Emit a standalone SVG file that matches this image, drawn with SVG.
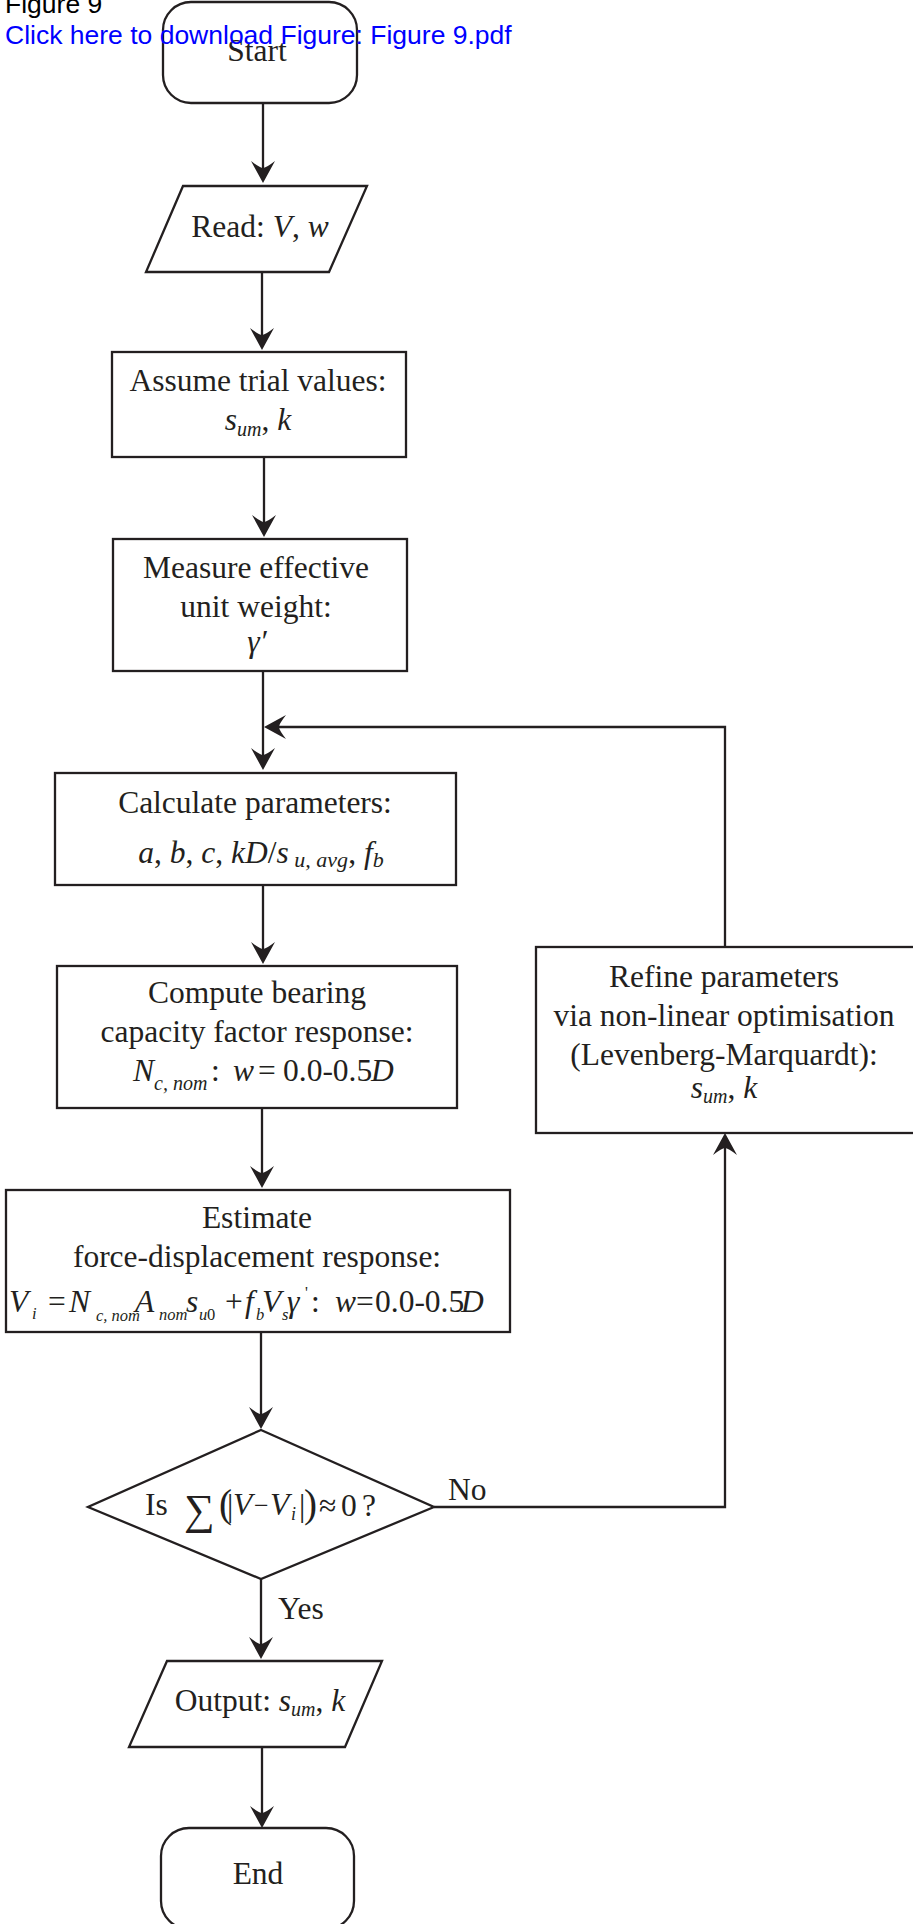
<svg xmlns="http://www.w3.org/2000/svg" width="913" height="1924" viewBox="0 0 913 1924">
<style>
.n{fill:#fff;stroke:#231f20;stroke-width:2.3}
.c{fill:none;stroke:#231f20;stroke-width:2.3;marker-end:url(#ah)}
.t{font-family:'Liberation Serif','Times New Roman',serif;font-size:31.5px;fill:#231f20}
.m{text-anchor:middle}
.i{font-style:italic}
.s{font-size:20px}
.ss{font-size:16.5px}
</style>
<defs>
<marker id="ah" markerUnits="userSpaceOnUse" markerWidth="40" markerHeight="40" viewBox="-20 -20 40 40" refX="0" refY="0" orient="auto">
<path d="M8,0 L-14,-12 Q-7,-3 -7,0 Q-7,3 -14,12 Z" fill="#231f20"/>
</marker>
</defs>
<rect width="913" height="1924" fill="#fff"/>

<g id="connectors">
<path class="c" d="M263,103 V175"/>
<path class="c" d="M262,272 V342"/>
<path class="c" d="M264,457 V529"/>
<path class="c" d="M263,671 V762"/>
<path class="c" d="M263,885 V956"/>
<path class="c" d="M262,1108 V1180"/>
<path class="c" d="M261,1332 V1421"/>
<path class="c" d="M261,1579 V1651"/>
<path class="c" d="M434,1507 H725 V1141"/>
<path class="c" d="M725,947 V727 H272"/>
<path class="c" d="M262,1747 V1820"/>
<text class="t" x="278" y="1619">Yes</text>
<text class="t" x="448" y="1500">No</text>
</g>

<g id="start">
<rect class="n" x="163" y="2" width="194" height="101" rx="28"/>
<text class="t m" x="257" y="61">Start</text>
</g>

<g id="read">
<polygon class="n" points="183,186 367,186 329,272 146,272"/>
<text class="t m" x="260" y="237">Read: <tspan class="i">V</tspan>, <tspan class="i">w</tspan></text>
</g>

<g id="assume">
<rect class="n" x="112" y="352" width="294" height="105"/>
<text class="t m" x="258" y="391">Assume trial values:</text>
<text class="t m" x="258" y="430"><tspan class="i">s</tspan><tspan class="i s" dy="6">um</tspan><tspan dy="-6">, </tspan><tspan class="i">k</tspan></text>
</g>

<g id="measure">
<rect class="n" x="113" y="539" width="294" height="132"/>
<text class="t m" x="256" y="578">Measure effective</text>
<text class="t m" x="256" y="617">unit weight:</text>
<text class="t m i" x="257" y="652">γ′</text>
</g>

<g id="calc">
<rect class="n" x="55" y="773" width="401" height="112"/>
<text class="t m" x="255" y="813">Calculate parameters:</text>
<text class="t m" x="261" y="863"><tspan class="i">a</tspan>, <tspan class="i">b</tspan>, <tspan class="i">c</tspan>, <tspan class="i">kD</tspan>/<tspan class="i">s</tspan><tspan class="i" font-size="22" dy="4"> u, avg</tspan><tspan dy="-4">, </tspan><tspan class="i">f</tspan><tspan class="i" font-size="22" dy="4">b</tspan></text>
</g>

<g id="compute">
<rect class="n" x="57" y="966" width="400" height="142"/>
<text class="t m" x="257" y="1003">Compute bearing</text>
<text class="t m" x="257" y="1042">capacity factor response:</text>
<text class="t"><tspan class="i" x="133" y="1081">N</tspan><tspan class="i s" x="154" y="1090">c, nom</tspan><tspan x="211" y="1081">:</tspan><tspan class="i" x="233" y="1081">w</tspan><tspan x="258" y="1081">=</tspan><tspan x="283" y="1081">0.0-0.5</tspan><tspan class="i" x="371" y="1081">D</tspan></text>
</g>

<g id="estimate">
<rect class="n" x="6" y="1190" width="504" height="142"/>
<text class="t m" x="257" y="1228">Estimate</text>
<text class="t m" x="257" y="1267">force-displacement response:</text>
<text class="t"><tspan class="i" x="9" y="1312">V</tspan><tspan class="i ss" x="32" y="1319">i</tspan><tspan x="48" y="1312">=</tspan><tspan class="i" x="69" y="1312">N</tspan><tspan class="i ss" x="96" y="1321">c, nom</tspan><tspan class="i" x="135" y="1312">A</tspan><tspan class="i ss" x="159" y="1320">nom</tspan><tspan class="i" x="186" y="1312">s</tspan><tspan class="i ss" x="199" y="1320">u</tspan><tspan class="ss" x="207" y="1320">0</tspan><tspan x="225" y="1312">+</tspan><tspan class="i" x="245" y="1312">f</tspan><tspan class="i ss" x="256" y="1320">b</tspan><tspan class="i" x="262" y="1312">V</tspan><tspan class="i ss" x="282" y="1320">s</tspan><tspan class="i" x="287" y="1312">γ</tspan><tspan font-size="16" x="305" y="1298">'</tspan><tspan x="311" y="1312">:</tspan><tspan class="i" x="335" y="1312">w</tspan><tspan x="356" y="1312">=</tspan><tspan x="375" y="1312">0.0-0.5</tspan><tspan class="i" x="461" y="1312">D</tspan></text>
</g>

<g id="decision">
<polygon class="n" points="261,1430 434,1507 261,1579 88,1507"/>
<text class="t"><tspan x="145" y="1515">Is</tspan><tspan x="184" y="1524" font-size="43">∑</tspan><tspan x="219" y="1517" font-size="39">(</tspan><tspan x="227" y="1516">|</tspan><tspan class="i" x="233" y="1515">V</tspan><tspan x="254" y="1514" font-size="26">−</tspan><tspan class="i" x="270" y="1515">V</tspan><tspan class="i" font-size="18" x="291" y="1520">i</tspan><tspan x="299" y="1516">|</tspan><tspan x="304" y="1517" font-size="39">)</tspan><tspan x="319" y="1516">≈</tspan><tspan x="341" y="1516">0</tspan><tspan x="362" y="1516">?</tspan></text>
</g>

<g id="refine">
<rect class="n" x="536" y="947" width="390" height="186"/>
<text class="t m" x="724" y="987">Refine parameters</text>
<text class="t m" x="724" y="1026">via non-linear optimisation</text>
<text class="t m" x="724" y="1065">(Levenberg-Marquardt):</text>
<text class="t m" x="724" y="1098"><tspan class="i">s</tspan><tspan class="i s" dy="5">um</tspan><tspan dy="-5">, </tspan><tspan class="i">k</tspan></text>
</g>

<g id="output">
<polygon class="n" points="167,1661 382,1661 345,1747 129,1747"/>
<text class="t m" x="260" y="1711">Output: <tspan class="i">s</tspan><tspan class="i s" dy="5">um</tspan><tspan dy="-5">, </tspan><tspan class="i">k</tspan></text>
</g>

<g id="end">
<rect class="n" x="161" y="1828" width="193" height="101" rx="28"/>
<text class="t m" x="258" y="1884">End</text>
</g>

<g id="header" font-family="'Liberation Sans',Arial,sans-serif" font-size="26.5">
<text x="5" y="13" fill="#000">Figure 9</text>
<text x="5" y="44" fill="#0000ff">Click here to download Figure: Figure 9.pdf</text>
</g>
</svg>
